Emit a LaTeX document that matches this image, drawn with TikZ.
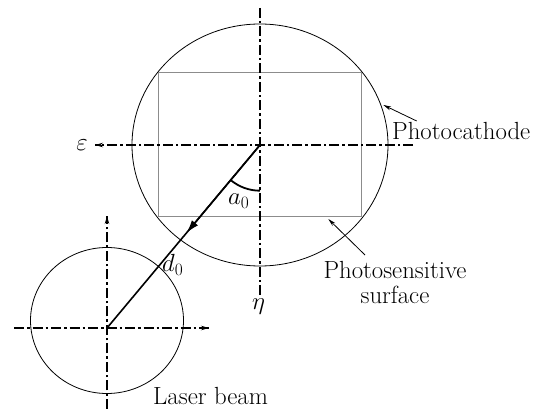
\documentclass[tikz,border=0pt]{standalone}
\usepackage{fix-cm}
\usetikzlibrary{arrows.meta,calc}
\begin{document}
\begin{tikzpicture}[x=1pt,y=-1pt,
  font=\fontsize{24.8}{29}\selectfont,
  rim/.style={line width=0.8pt},
  frame/.style={draw=black!45,line width=1pt},
  axisline/.style={line width=2pt,dash pattern=on 10pt off 3pt on 2.5pt off 3pt},
  axtip/.style={-{Stealth[length=8pt,width=4.5pt]}},
  beam/.style={line width=1.6pt},
  leader/.style={line width=0.8pt,-{Stealth[length=8pt,width=4pt]}},
  lbl/.style={inner sep=0pt}]
\useasboundingbox (0,0) rectangle (542,409);
% centres
\coordinate (O1) at (260,145);
\coordinate (O2) at (107,328);
% photocathode and photosensitive surface
\draw[rim] (O1) ellipse [x radius=128, y radius=121];
\draw[frame] (158.5,72.5) rectangle (361.5,216.5);
% big axes
\coordinate (Vt) at (260,8);
\coordinate (Vb) at (260,295);
\coordinate (Hl) at (95,145);
\coordinate (Hr) at (413,145);
\draw[axisline] (Vt) -- (Vb);
\draw[axisline] (Hr) -- (Hl);
\draw[line width=0.8pt,axtip] ($(Hl)+(8,0)$) -- (Hl);
% laser beam
\draw[rim] (107,320.5) ellipse [x radius=76.5, y radius=73];
\coordinate (hl) at (14,328);
\coordinate (hr) at (209,328);
\coordinate (vb) at (107,409);
\coordinate (vt) at (107,216);
\draw[axisline] (hl) -- (hr);
\draw[line width=0.8pt,axtip] ($(hr)+(-8,0)$) -- (hr);
\draw[axisline] (vb) -- (vt);
\draw[line width=0.8pt,axtip] ($(vt)+(0,8)$) -- (vt);
% offset line
\draw[beam] (O1) -- (O2);
\draw[beam,-{Latex[length=13pt,width=8pt]}] (O1) -- ($(O1)!0.48!(O2)$);
\draw[line width=1.8pt] (O1) ++(90:45.7) arc[start angle=90, end angle=129.8, radius=45.7];
% labels
\node[lbl] (eps) at (82,145) {$\varepsilon$};
\node[lbl] (eta) [anchor=base] at (258.5,310) {$\eta$};
\node[lbl,anchor=base west] (a0) at (228,205) {$a_0$};
\node[lbl,anchor=base west] (d0) at (162,272) {$d_0$};
\node[lbl,anchor=base west] (pc) at (392,140) {Photocathode};
\node[lbl,anchor=north,align=center,font=\fontsize{24.8}{25.5}\selectfont] (ps) at (395,261) {Photosensitive\\surface};
\node[lbl,anchor=base west] (lb) at (153,405) {Laser beam};
% leaders
\coordinate (pcA) at (416.7,121);
\coordinate (pcB) at (383.3,105);
\coordinate (psA) at (365,255);
\coordinate (psB) at (328.3,219);
\draw[leader] (pcA) -- (pcB);
\draw[leader] (psA) -- (psB);
\end{tikzpicture}
\end{document}
